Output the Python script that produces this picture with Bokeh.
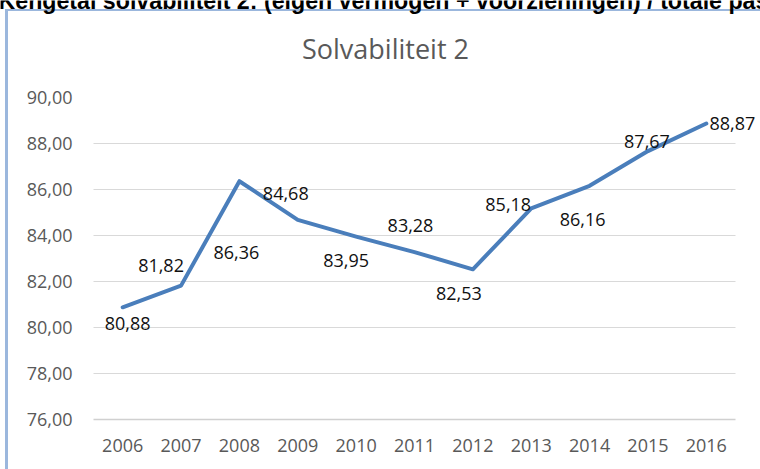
from bokeh.plotting import figure
from bokeh.models import Range1d, FixedTicker, ColumnDataSource
from bokeh.core.properties import value
from bokeh.embed import file_html
from bokeh.resources import INLINE

# ---- data ----
years = ["2006", "2007", "2008", "2009", "2010", "2011",
         "2012", "2013", "2014", "2015", "2016"]
solvency = [80.88, 81.82, 86.36, 84.68, 83.95, 83.28,
            82.53, 85.18, 86.16, 87.67, 88.87]
value_labels = ["80,88", "81,82", "86,36", "84,68", "83,95", "83,28",
                "82,53", "85,18", "86,16", "87,67", "88,87"]
y_ticks = [76, 78, 80, 82, 84, 86, 88, 90]
y_tick_labels = ["76,00", "78,00", "80,00", "82,00", "84,00",
                 "86,00", "88,00", "90,00"]
grid_ticks = [78, 80, 82, 84, 86, 88]

# label placement (pixel offsets from each point; dy measured downward)
label_dx = [5, -20, -3, -12, -10, -4, -14, -23, -7, -1, 26]
label_dy = [16, -20, 71, -26, 24, -27, 24, -4, 34, -10, 0]

title_text = "Solvabiliteit 2"
header_text = "Kengetal solvabiliteit 2: (eigen vermogen + voorzieningen) / totale passiva"

# ---- layout (pixels) ----
W, H = 760, 469
PL, PR = 93, 735          # left / right edge of the plotting area
PT, PB = 97, 419          # pixel rows of y = 90 and y = 76
Y_LO, Y_HI = 76, 90
n = len(years)
step = (PR - PL) / n
ppu = (PB - PT) / (Y_HI - Y_LO)

def px_x(px):   # canvas pixel column -> x data value
    return -0.5 + (px - PL) / step

def px_y(py):   # canvas pixel row -> y data value
    return Y_LO + (PB - py) / ppu

xs = list(range(n))

p = figure(width=W, height=H, output_backend="svg", toolbar_location=None,
           x_range=Range1d(px_x(0), px_x(W)),
           y_range=Range1d(px_y(H), px_y(0)),
           min_border=0, min_border_left=0, min_border_right=0,
           min_border_top=0, min_border_bottom=0)
border_col = "#9BB7DD"
p.styles = {
    "background": (f"linear-gradient({border_col},{border_col}) 5px 9px / 3px 100% no-repeat, "
                   f"linear-gradient({border_col},{border_col}) 5px 9px / 100% 2px no-repeat, white"),
}
p.outline_line_color = None
p.background_fill_alpha = 0
p.border_fill_alpha = 0
p.grid.visible = False

# y axis drawn at the left edge of the plotting area
p.yaxis.fixed_location = px_x(PL)
p.yaxis.bounds = (Y_LO, Y_HI)
p.yaxis.ticker = FixedTicker(ticks=y_ticks)
p.yaxis.major_label_overrides = dict(zip(y_ticks, y_tick_labels))
p.yaxis.axis_line_color = None
p.yaxis.major_tick_line_color = None
p.yaxis.minor_tick_line_color = None
p.yaxis.major_tick_out = 0
p.yaxis.major_tick_in = 0
p.yaxis.major_label_standoff = 21
p.yaxis.major_label_text_font = "Open Sans"
p.yaxis.major_label_text_font_size = "18px"
p.yaxis.major_label_text_color = "#595959"

# x axis drawn at y = 76
p.xaxis.fixed_location = Y_LO
p.xaxis.bounds = (-0.5, n - 0.5)
p.xaxis.ticker = FixedTicker(ticks=xs)
p.xaxis.major_label_overrides = dict(zip(xs, years))
p.xaxis.axis_line_color = "#D0D0D0"
p.xaxis.axis_line_width = 1.5
p.xaxis.major_tick_line_color = None
p.xaxis.minor_tick_line_color = None
p.xaxis.major_tick_out = 0
p.xaxis.major_tick_in = 0
p.xaxis.major_label_standoff = 19
p.xaxis.major_label_text_font = "Open Sans"
p.xaxis.major_label_text_font_size = "18px"
p.xaxis.major_label_text_color = "#595959"

# horizontal gridlines across the category slots
p.segment(x0=-0.5, x1=n - 0.5, y0=grid_ticks, y1=grid_ticks,
          line_color="#D9D9D9", line_width=1)

src = ColumnDataSource(dict(x=xs, v=solvency, lab=value_labels,
                            dx=label_dx, dy=label_dy))
p.line("x", "v", source=src, line_color="#4A7EBB", line_width=4,
       line_join="round", line_cap="round")
p.text("x", "v", text="lab", source=src, x_offset="dx", y_offset="dy",
       text_align="center", text_baseline="middle",
       text_font=value("Open Sans"), text_font_size="18px",
       text_color="#111111")

# chart title
p.text(x=[px_x(385)], y=[px_y(48)], text=[title_text],
       text_align="center", text_baseline="middle",
       text_font=value("Open Sans"), text_font_size="27px",
       text_color="#595959")
# header text above the chart (cut off at the top edge, as in the reference)
p.text(x=[px_x(-2)], y=[px_y(0)], text=[header_text],
       text_align="left", text_baseline="alphabetic",
       text_font=value("Liberation Sans"), text_font_size="23.2px",
       text_font_style="bold", text_color="#000000")

open("out.html", "w").write(file_html(p, INLINE))
